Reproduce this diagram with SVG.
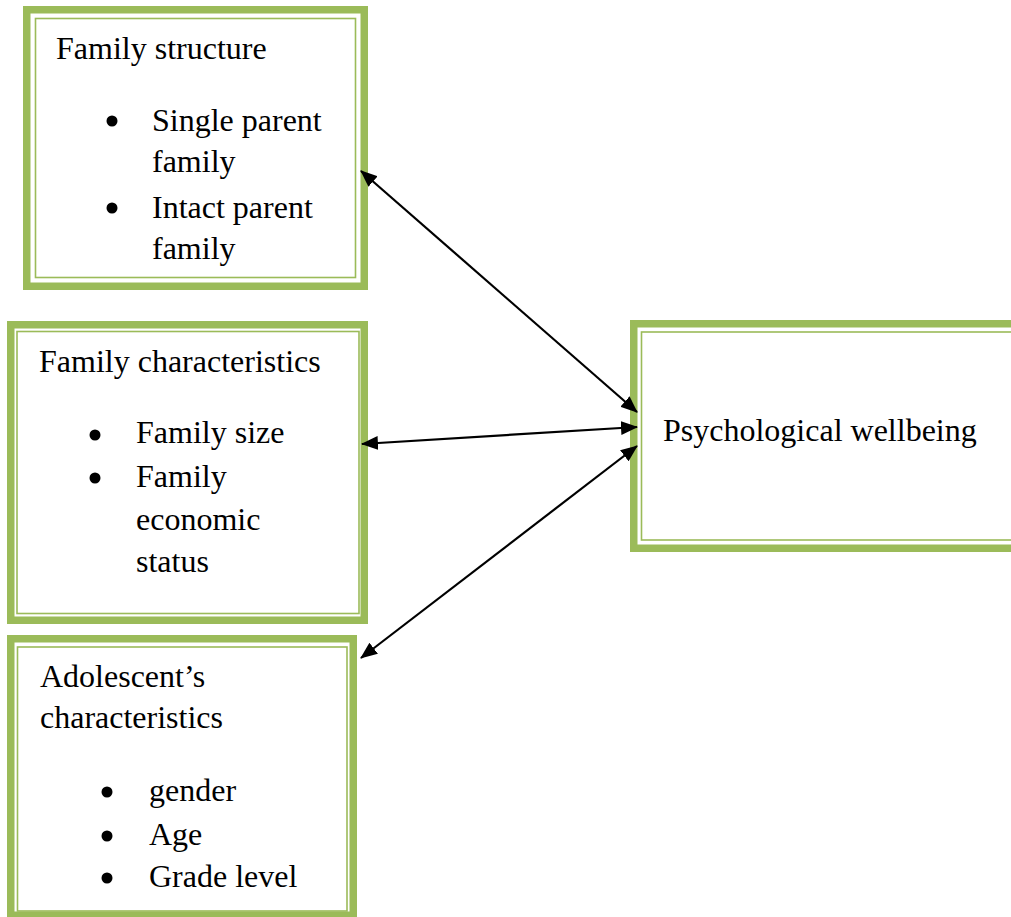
<svg xmlns="http://www.w3.org/2000/svg" width="1011" height="917" viewBox="0 0 1011 917">
<style>
.thick{fill:none;stroke:#9bbb59;stroke-width:7.5}
.thin{fill:none;stroke:#9bbb59;stroke-width:1.6}
text{font-family:"Liberation Serif","Times New Roman",serif;font-size:32px;fill:#000}
.b{fill:#000}
.c{stroke:#000;stroke-width:2.2;fill:none;marker-start:url(#ah);marker-end:url(#ah)}
</style>
<defs>
<marker id="ah" markerUnits="userSpaceOnUse" markerWidth="18" markerHeight="14" refX="16" refY="7" orient="auto-start-reverse">
<path d="M0,0 L17,7 L0,14 z" fill="#000"/>
</marker>
</defs>
<rect width="1011" height="917" fill="#fff"/>
<g id="family-structure">
<rect class="thick" x="26.75" y="9.75" width="337.5" height="276.5"/>
<rect class="thin" x="35.5" y="18.5" width="320" height="259"/>
<text x="56" y="59">Family structure</text>
<circle class="b" cx="112" cy="121" r="5.5"/>
<text x="152" y="131">Single parent</text>
<text x="152" y="172">family</text>
<circle class="b" cx="112" cy="208" r="5.5"/>
<text x="152" y="218">Intact parent</text>
<text x="152" y="259">family</text>
</g>
<g id="family-characteristics">
<rect class="thick" x="10.75" y="324.75" width="353.5" height="295.5"/>
<rect class="thin" x="17" y="331.5" width="342" height="282"/>
<text x="39" y="372">Family characteristics</text>
<circle class="b" cx="95" cy="435" r="5.5"/>
<text x="136" y="443">Family size</text>
<circle class="b" cx="95" cy="478" r="5.5"/>
<text x="136" y="487">Family</text>
<text x="136" y="530">economic</text>
<text x="136" y="572">status</text>
</g>
<g id="adolescent-characteristics">
<rect class="thick" x="10.75" y="638.75" width="342.5" height="276.5"/>
<rect class="thin" x="17.5" y="647" width="329.5" height="264"/>
<text x="40" y="687">Adolescent’s</text>
<text x="40" y="728">characteristics</text>
<circle class="b" cx="107" cy="792" r="5.5"/>
<text x="149" y="801">gender</text>
<circle class="b" cx="107" cy="836" r="5.5"/>
<text x="149" y="845">Age</text>
<circle class="b" cx="107" cy="878" r="5.5"/>
<text x="149" y="887">Grade level</text>
</g>
<g id="psychological-wellbeing">
<rect class="thick" x="633.75" y="323.75" width="400" height="224.5"/>
<rect class="thin" x="641.5" y="332" width="385" height="208"/>
<text x="663" y="441">Psychological wellbeing</text>
</g>
<g id="connectors">
<line class="c" x1="361" y1="171" x2="637" y2="412"/>
<line class="c" x1="362" y1="444" x2="637" y2="427"/>
<line class="c" x1="361" y1="658" x2="637" y2="446"/>
</g>
</svg>
